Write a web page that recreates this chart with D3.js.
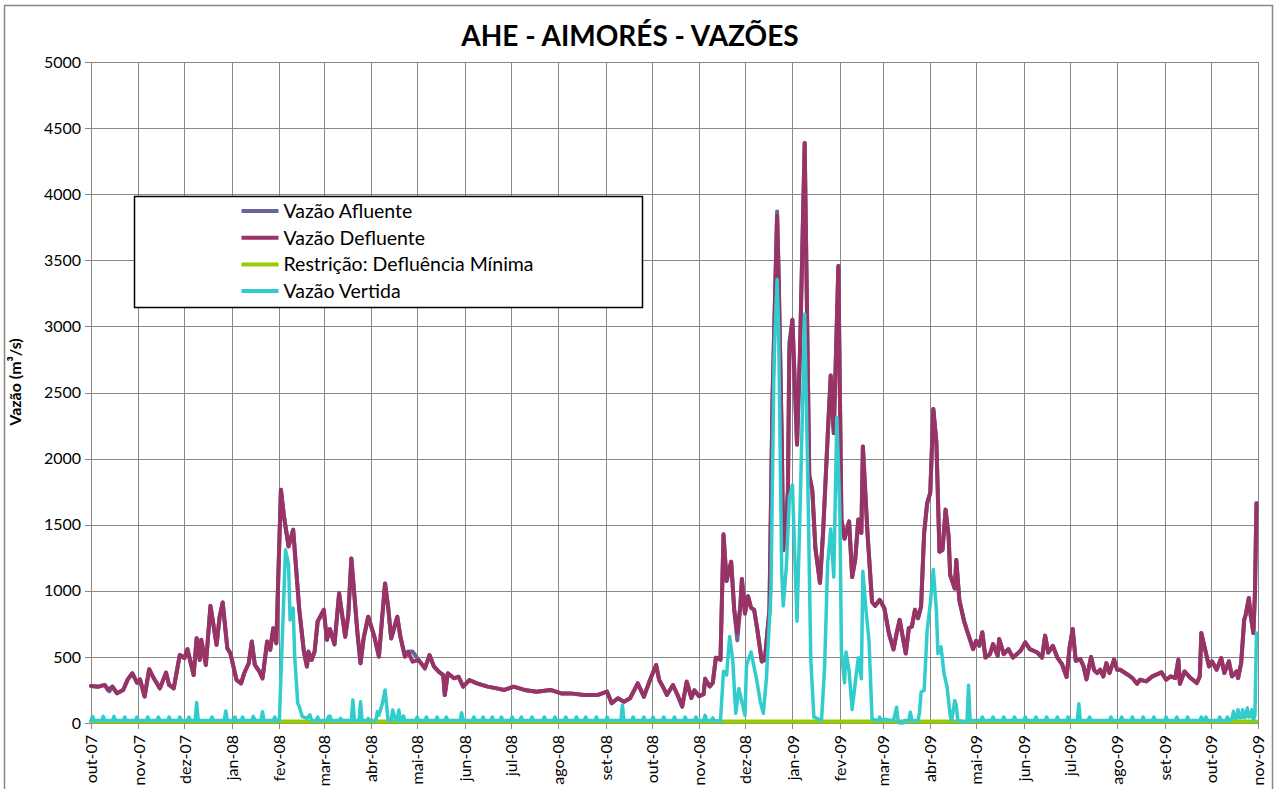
<!DOCTYPE html>
<html>
<head>
<meta charset="utf-8">
<script src="https://cdn.jsdelivr.net/npm/d3@7"></script>
<style>
    body { margin: 0; background: #fff; }
    text { font-family: Lato, "Open Sans", sans-serif; fill: #000; }
</style>
</head>
<body>
<svg id="chart" width="1275" height="789"></svg>
<script>

// *** Dados ***

var meses = ["out-07", "nov-07", "dez-07", "jan-08", "fev-08", "mar-08", "abr-08", "mai-08", "jun-08",
    "jul-08", "ago-08", "set-08", "out-08", "nov-08", "dez-08", "jan-09", "fev-09", "mar-09", "abr-09",
    "mai-09", "jun-09", "jul-09", "ago-09", "set-09", "out-09", "nov-09"];

var yTicks = [0, 500, 1000, 1500, 2000, 2500, 3000, 3500, 4000, 4500, 5000];

// [dia desde 01/10/2007, vazão m³/s]
var vazaoDefluente = [
    [0,280],[5,275],[9,288],[11,250],[14,275],[17,225],[21,250],[24,330],[27,376],[30,305],
    [32,330],[35,200],[38,407],[41,338],[45,262],[49,381],[51,288],[54,262],[58,515],[61,490],
    [63,558],[67,363],[69,641],[71,477],[72,629],[75,439],[78,886],[82,591],[84,805],[86,912],
    [89,566],[91,528],[95,326],[98,300],[100,376],[103,452],[105,616],[107,439],[110,389],[112,338],
    [115,616],[117,553],[119,717],[121,603],[124,1765],[126,1563],[129,1336],[132,1462],[134,1159],[136,856],
    [139,540],[141,427],[142,540],[144,477],[146,540],[148,768],[152,856],[154,629],[156,710],[159,595],
    [162,981],[166,653],[168,817],[170,1245],[174,678],[176,451],[178,640],[181,804],[185,653],[188,502],
    [192,1056],[194,880],[196,640],[200,804],[202,653],[205,502],[207,539],[210,464],[214,476],[218,413],
    [221,514],[224,426],[227,388],[230,363],[231,212],[233,376],[237,338],[240,350],[243,275],[247,325],
    [252,300],[259,275],[265,262],[270,250],[276,275],[283,250],[291,237],[300,250],[307,224],[313,224],
    [322,212],[331,212],[337,237],[340,149],[344,187],[348,161],[352,187],[357,300],[361,199],[365,325],
    [369,439],[371,325],[374,262],[376,212],[380,287],[383,212],[386,124],[389,313],[392,190],[394,247],
    [397,203],[400,218],[401,334],[404,276],[406,305],[408,494],[411,479],[413,1423],[415,1075],[418,1220],
    [420,857],[422,683],[424,886],[425,1089],[427,828],[429,959],[431,871],[433,857],[435,712],[438,465],
    [440,479],[443,857],[445,2455],[448,3835],[449,3384],[451,2164],[452,1307],[455,1641],[456,2803],[458,3050],
    [461,2106],[463,2832],[466,4387],[469,1874],[471,1757],[473,1322],[476,1060],[478,1438],[481,2164],[483,2629],
    [485,2193],[488,3457],[490,1540],[492,1394],[495,1525],[497,1104],[499,1235],[501,1540],[503,1438],[504,2092],
    [507,1438],[510,915],[512,886],[515,932],[518,869],[521,678],[524,556],[526,678],[528,780],[532,526],
    [534,716],[536,729],[538,856],[540,792],[542,881],[544,1436],[546,1665],[548,1741],[550,2376],[552,2122],
    [554,1296],[556,1309],[558,1614],[560,1410],[561,1118],[564,1017],[565,1233],[567,928],[570,775],[572,699],
    [576,559],[578,622],[580,584],[582,686],[584,495],[587,521],[589,597],[592,508],[593,635],[596,521],
    [599,559],[602,495],[607,546],[610,610],[613,559],[618,533],[621,495],[623,661],[625,533],[628,584],
    [631,495],[634,445],[637,348],[639,572],[641,711],[643,470],[646,483],[648,432],[650,330],[653,500],
    [655,400],[657,378],[659,403],[661,353],[663,453],[665,378],[668,479],[670,403],[672,403],[677,365],
    [680,340],[683,297],[685,327],[689,315],[693,353],[699,383],[702,327],[705,353],[708,340],[710,479],
    [711,297],[714,390],[718,340],[722,302],[724,353],[725,680],[728,529],[730,428],[732,466],[735,403],
    [738,491],[740,378],[743,466],[745,353],[748,390],[749,340],[751,453],[753,781],[754,819],[756,945],
    [757,831],[759,680],[760,982],[761,1663]
];

var vazaoAfluente = [
    [0,280],[5,275],[9,288],[12,240],[14,275],[17,225],[21,250],[24,330],[27,376],[30,305],
    [32,330],[35,200],[38,407],[41,338],[45,262],[49,381],[51,288],[54,262],[58,515],[61,490],
    [63,558],[67,363],[69,641],[71,477],[72,629],[75,439],[78,886],[82,591],[84,805],[86,912],
    [89,566],[91,528],[95,326],[98,300],[100,376],[103,452],[105,616],[107,439],[110,389],[112,338],
    [115,616],[117,553],[119,717],[121,603],[124,1765],[126,1563],[129,1336],[132,1462],[134,1159],[136,856],
    [139,540],[141,427],[142,540],[144,477],[146,540],[148,768],[152,856],[154,629],[156,710],[159,595],
    [162,981],[166,653],[168,817],[170,1245],[174,678],[176,451],[178,640],[181,804],[185,653],[188,502],
    [192,1056],[194,880],[196,640],[200,804],[202,653],[205,502],[207,539],[210,540],[214,476],[218,413],
    [221,514],[224,426],[227,388],[230,363],[231,212],[233,376],[237,338],[240,350],[243,275],[247,325],
    [252,300],[259,275],[265,262],[270,250],[276,275],[283,250],[291,237],[300,250],[307,224],[313,224],
    [322,212],[331,212],[337,237],[340,149],[344,187],[348,161],[352,187],[357,300],[361,199],[365,325],
    [369,439],[371,325],[374,262],[376,212],[380,287],[383,212],[386,124],[389,313],[392,190],[394,247],
    [397,203],[400,218],[401,334],[404,276],[406,305],[408,494],[411,479],[413,1430],[415,1075],[418,1220],
    [420,857],[422,625],[424,886],[425,1089],[427,828],[429,959],[431,871],[433,857],[435,712],[438,465],
    [440,479],[443,857],[445,2455],[448,3870],[449,3384],[451,2164],[452,1307],[455,1757],[456,2880],[458,3050],
    [461,2106],[463,2832],[466,4387],[469,1874],[471,1757],[473,1322],[476,1060],[478,1438],[481,2164],[483,2629],
    [485,2193],[488,3457],[490,1540],[492,1394],[495,1525],[497,1104],[499,1235],[501,1540],[503,1438],[504,2092],
    [507,1438],[510,915],[512,886],[515,932],[518,869],[521,678],[524,556],[526,678],[528,780],[532,526],
    [534,716],[536,729],[538,856],[540,792],[542,881],[544,1436],[546,1665],[548,1741],[550,2376],[552,2122],
    [554,1296],[556,1309],[558,1614],[560,1410],[561,1118],[564,1017],[565,1233],[567,928],[570,775],[572,699],
    [576,559],[578,622],[580,584],[582,686],[584,495],[587,521],[589,597],[592,508],[593,635],[596,521],
    [599,559],[602,495],[607,546],[610,610],[613,559],[618,533],[621,495],[623,661],[625,533],[628,584],
    [631,495],[634,445],[637,348],[639,572],[641,711],[643,470],[646,483],[648,432],[650,330],[653,500],
    [655,400],[657,378],[659,403],[661,353],[663,453],[665,378],[668,479],[670,403],[672,403],[677,365],
    [680,340],[683,297],[685,327],[689,315],[693,353],[699,383],[702,327],[705,353],[708,340],[710,479],
    [711,297],[714,390],[718,340],[722,302],[724,353],[725,680],[728,529],[730,428],[732,466],[735,403],
    [738,491],[740,378],[743,466],[745,353],[748,390],[749,340],[751,453],[753,781],[754,819],[756,945],
    [757,831],[759,680],[760,982],[761,1663]
];

var restricaoMinima = [[0,12],[761,12]];

var vazaoVertida = [
    [0,18],[1,50],[2,18],[7,18],[8,50],[9,18],[14,18],[15,50],[16,18],[21,18],[22,45],[23,18],
    [29,18],[30,45],[31,18],[36,18],[37,45],[38,18],[43,18],[44,45],[45,18],[50,18],[51,45],[52,18],
    [57,18],[58,45],[59,18],[63,18],[64,45],[65,18],[68,18],[69,155],[70,18],[78,18],[79,45],[80,18],
    [87,18],[88,90],[89,18],[93,18],[94,45],[95,18],[98,18],[99,45],[100,18],[105,18],[106,50],[107,18],
    [111,18],[112,85],[113,18],[119,18],[120,45],[121,18],
    [123,18],[124,351],[127,1310],[129,1197],[130,780],[132,869],[133,502],[135,149],[136,124],[138,48],
    [141,35],[143,61],[144,18],
    [147,18],[148,45],[149,18],[154,18],[155,45],[156,53],[157,18],[162,18],[163,35],[164,18],
    [170,18],[171,174],[172,18],[175,18],[176,161],[177,18],[180,18],[181,35],[182,18],
    [186,18],[187,86],[188,60],[190,136],[192,250],[194,18],[196,18],[197,98],[199,18],[200,18],
    [201,98],[202,18],[203,18],[204,53],[205,18],
    [212,18],[213,45],[214,18],[218,18],[219,45],[220,18],[225,18],[226,45],[227,18],[231,18],[232,45],[233,18],
    [241,18],[242,78],[243,18],[249,18],[250,45],[251,18],[255,18],[256,45],[257,18],[261,18],[262,45],[263,18],
    [267,18],[268,45],[269,18],[274,18],[275,45],[276,18],[280,18],[281,45],[282,18],[287,18],[288,45],[289,18],
    [295,18],[296,45],[297,18],[302,18],[303,45],[304,18],[309,18],[310,45],[311,18],[316,18],[317,45],[318,18],
    [322,18],[323,45],[324,18],[329,18],[330,45],[331,18],[336,18],[337,45],[338,18],[346,18],[347,136],[348,18],
    [353,18],[354,45],[355,18],[360,18],[361,45],[362,18],[366,18],[367,45],[368,18],[373,18],[374,45],[375,18],
    [380,18],[381,45],[382,18],[387,18],[388,45],[389,18],[394,18],[395,45],[396,18],[400,18],[401,58],[402,18],
    [405,18],[406,40],[407,18],
    [411,15],[413,392],[415,363],[417,654],[419,479],[421,73],[423,261],[425,160],[427,58],[428,436],
    [431,537],[433,421],[435,305],[437,160],[439,73],[441,334],[444,1002],[446,2745],[448,3355],[449,2978],
    [451,1147],[452,886],[454,1177],[456,1699],[458,1801],[461,770],[463,1612],[466,3094],[468,1874],[470,479],
    [472,44],[477,20],[479,421],[481,1206],[483,1467],[485,1104],[487,2309],[489,1583],[490,537],[492,305],
    [493,537],[495,392],[497,102],[499,305],[501,494],[503,334],[504,1147],[506,857],[508,625],[510,29],
    [514,18],[515,44],[516,18],[518,29],[524,18],[526,119],[527,18],[528,0],[530,0],[531,18],
    [534,18],[535,81],[536,18],[540,18],[541,81],[542,234],[544,246],[546,704],[548,900],[550,1161],
    [552,856],[553,526],[555,577],[557,374],[559,272],[561,56],[562,18],[564,170],[565,132],[566,18],
    [572,5],[573,285],[574,18],
    [581,18],[582,45],[583,18],[588,18],[589,45],[590,18],[595,18],[596,45],[597,18],[602,18],[603,45],[604,18],
    [609,18],[610,45],[611,18],[616,18],[617,45],[618,18],[623,18],[624,45],[625,18],[630,18],[631,45],[632,18],
    [637,18],[638,45],[639,18],[644,18],[645,145],[646,18],[651,18],[652,45],[653,18],[665,18],[666,45],[667,18],
    [672,18],[673,45],[674,18],[679,18],[680,45],[681,18],[686,18],[687,45],[688,18],[693,18],[694,45],[695,18],
    [701,18],[702,45],[703,18],[708,18],[709,45],[710,18],[715,18],[716,45],[717,18],[724,18],[725,45],[726,18],
    [727,18],[728,45],[729,18],[736,18],[737,45],[738,18],[741,18],[742,45],[743,18],
    [745,35],[746,88],[747,35],[748,35],[749,100],[750,40],[751,40],[752,100],[753,40],[754,45],
    [755,113],[756,45],[757,50],[758,100],[759,20],[760,60],[761,680]
];

var series = [
    {nome: "Vazão Afluente", cor: "#666699", largura: 4, dados: vazaoAfluente},
    {nome: "Vazão Defluente", cor: "#993366", largura: 4, dados: vazaoDefluente},
    {nome: "Restrição: Defluência Mínima", cor: "#99cc00", largura: 4, dados: restricaoMinima},
    {nome: "Vazão Vertida", cor: "#33cccc", largura: 3.5, dados: vazaoVertida}
];

// *** Montagem do gráfico ***

var svg = d3.select("#chart");

var outerWidth = +svg.attr("width");
var outerHeight = +svg.attr("height");

var margin = {top: 62, right: 17, bottom: 66, left: 91},
    width = outerWidth - margin.left - margin.right,
    height = outerHeight - margin.top - margin.bottom;

// moldura externa da área do gráfico
svg.append("rect")
    .attr("x", 4.5)
    .attr("y", 5.5)
    .attr("width", 1268)
    .attr("height", 820)
    .attr("fill", "#fff")
    .attr("stroke", "#868686")
    .attr("stroke-width", 1.5);

svg.append("text")
    .attr("x", 630)
    .attr("y", 46)
    .attr("text-anchor", "middle")
    .style("font-size", "28px")
    .style("font-weight", "bold")
    .text("AHE - AIMORÉS - VAZÕES");

svg.append("text")
    .attr("transform", "translate(21,382) rotate(-90)")
    .attr("text-anchor", "middle")
    .style("font-size", "16px")
    .style("font-weight", "bold")
    .text("Vazão (m³/s)");

var inicio = new Date(Date.UTC(2007, 9, 1));
var datasMeses = meses.map((m, i) => d3.utcMonth.offset(inicio, i));

var x = d3.scaleUtc()
    .domain([inicio, datasMeses[datasMeses.length - 1]])
    .range([0, width]);

var y = d3.scaleLinear().domain([0, 5000]).range([height, 0]);

var chart = svg.append("g")
    .attr("transform", "translate(" + margin.left + "," + margin.top + ")");

// grade horizontal + rótulos do eixo Y
var yAxisG = chart.append("g")
    .attr("transform", "translate(-6,0)")
    .call(d3.axisLeft(y).tickValues(yTicks).tickFormat(d3.format("d"))
        .tickSizeInner(-(width + 6)).tickSizeOuter(0).tickPadding(4));

// grade vertical + rótulos dos meses
var xAxisG = chart.append("g")
    .attr("transform", "translate(0," + (height + 6) + ")")
    .call(d3.axisBottom(x).tickValues(datasMeses).tickFormat((d, i) => meses[i])
        .tickSizeInner(-(height + 6)).tickSizeOuter(0));

[yAxisG, xAxisG].forEach(function(g) {
    g.select(".domain").remove();
    g.selectAll(".tick line")
        .attr("stroke", "#878787")
        .attr("stroke-width", 1)
        .attr("shape-rendering", "crispEdges");
    g.selectAll(".tick text")
        .style("font-family", "Lato, 'Open Sans', sans-serif")
        .style("font-size", "16px")
        .attr("fill", "#000");
});

xAxisG.selectAll(".tick text")
    .style("font-size", "16px")
    .attr("transform", "rotate(-90)")
    .attr("text-anchor", "end")
    .attr("x", -6)
    .attr("y", 0)
    .attr("dy", "0.35em");

var lineMaker = d3.line()
    .x(d => x(d3.utcDay.offset(inicio, d[0])))
    .y(d => y(d[1]));

chart.append("g").selectAll("path")
    .data(series).enter().append("path")
    .attr("fill", "none")
    .attr("stroke", d => d.cor)
    .attr("stroke-width", d => d.largura)
    .attr("stroke-linejoin", "round")
    .attr("stroke-linecap", "round")
    .attr("d", d => lineMaker(d.dados));

// *** Legenda ***

var legend = svg.append("g").attr("transform", "translate(134.5,196.5)");

legend.append("rect")
    .attr("width", 508)
    .attr("height", 111)
    .attr("fill", "#fff")
    .attr("stroke", "#000")
    .attr("stroke-width", 1.5);

var legendG = legend.selectAll(".item")
    .data(series).enter().append("g")
    .attr("class", "item")
    .attr("transform", (d, i) => "translate(0," + (14.5 + i * 26.7) + ")");

legendG.append("line")
    .attr("x1", 107)
    .attr("x2", 144)
    .attr("stroke", d => d.cor)
    .attr("stroke-width", 4);

legendG.append("text")
    .attr("x", 149)
    .attr("dy", "0.35em")
    .style("font-size", "19.5px")
    .text(d => d.nome);

</script>
</body>
</html>
